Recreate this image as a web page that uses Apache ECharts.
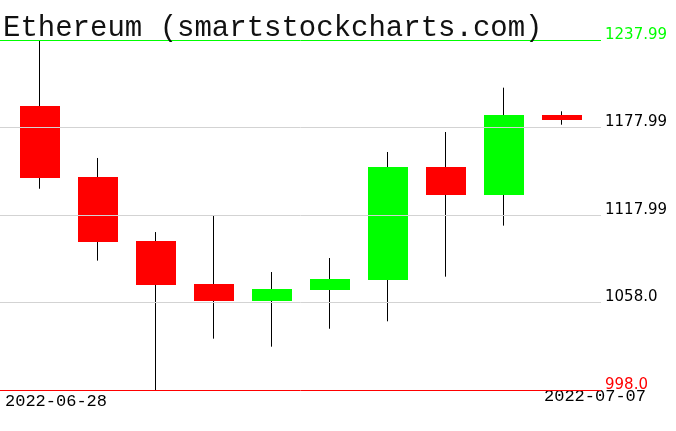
<!DOCTYPE html>
<html>
<head>
<meta charset="utf-8">
<script src="https://cdn.jsdelivr.net/npm/echarts@6/dist/echarts.min.js"></script>
<style>
  html, body { margin: 0; padding: 0; background: #fff; }
  #main { width: 676px; height: 431px; }
</style>
</head>
<body>
<div id="main"></div>
<script>
// daily candles
const dates = ['2022-06-28', '2022-06-29', '2022-06-30', '2022-07-01', '2022-07-02',
    '2022-07-03', '2022-07-04', '2022-07-05', '2022-07-06', '2022-07-07'];
const opens = [1192.7, 1144.1, 1100.2, 1070.7, 1059.2, 1066.8, 1073.6, 1150.9, 1131.9, 1186.8];
const closes = [1143.6, 1099.5, 1070.2, 1059.2, 1067.3, 1074.1, 1150.9, 1131.9, 1186.8, 1183.3];
const lows = [1136.0, 1086.7, 998.0, 1033.2, 1027.7, 1040.0, 1045.1, 1075.7, 1110.7, 1179.9];
const highs = [1237.99, 1157.1, 1106.3, 1117.3, 1078.9, 1088.5, 1161.2, 1174.9, 1205.3, 1189.1];

const yTickValues = [998.0, 1058.0, 1117.99, 1177.99, 1237.99];
const yTickLabels = ['998.0', '1058.0', '1117.99', '1177.99', '1237.99'];

// min line red, max line green, the rest grey
const lineColors = ['#ff0000', '#d3d3d3', '#d3d3d3', '#d3d3d3', '#00ff00'];
const labelColors = ['#ff0000', '#000000', '#000000', '#000000', '#00ff00'];

const candles = dates.map((d, i) => [i, opens[i], closes[i], lows[i], highs[i]]);

function renderCandle(params, api) {
    const i = api.value(0);
    const o = api.coord([i, api.value(1)]);
    const c = api.coord([i, api.value(2)]);
    const lo = api.coord([i, api.value(3)]);
    const hi = api.coord([i, api.value(4)]);
    const bw = Math.round(api.size([1, 0])[0] * 0.69);
    const cx = Math.floor(o[0]) + 0.5;
    const top = Math.round(Math.min(o[1], c[1]));
    const bottom = Math.round(Math.max(o[1], c[1]));
    const up = api.value(2) >= api.value(1);
    return {
        type: 'group',
        children: [
            {
                type: 'line',
                shape: {x1: cx, y1: hi[1], x2: cx, y2: lo[1]},
                style: {stroke: '#000', lineWidth: 1}
            },
            {
                type: 'rect',
                shape: {x: Math.round(cx - bw / 2), y: top, width: bw, height: Math.max(1, bottom - top)},
                style: {fill: up ? '#00ff00' : '#ff0000'}
            }
        ]
    };
}

const chart = echarts.init(document.getElementById('main'));
chart.setOption({
    animation: false,
    backgroundColor: '#fff',
    title: {
        text: 'Ethereum (smartstockcharts.com)',
        left: 3,
        top: 14,
        padding: 0,
        textStyle: {
            fontFamily: 'Liberation Mono',
            fontSize: 29,
            fontWeight: 'normal',
            color: '#111'
        }
    },
    grid: {left: 0, right: 75, top: 40, bottom: 41, containLabel: false},
    xAxis: {
        type: 'value',
        min: -0.681,
        max: 9.681,
        show: false
    },
    yAxis: {
        type: 'value',
        position: 'right',
        min: 998.0,
        max: 1237.99,
        axisLine: {show: false},
        axisTick: {show: false},
        splitLine: {show: false},
        axisLabel: {
            customValues: yTickValues,
            margin: 4,
            fontFamily: 'DejaVu Sans',
            fontSize: 15,
            verticalAlign: 'bottom',
            lineHeight: 10,
            formatter: (v) => {
                const k = yTickValues.indexOf(v);
                return k >= 0 ? yTickLabels[k] : '';
            },
            color: (v) => {
                const k = yTickValues.indexOf(Number(v));
                return k >= 0 ? labelColors[k] : '#000';
            }
        }
    },
    graphic: [
        {
            type: 'text',
            left: 5,
            top: 393,
            style: {text: dates[0], font: '17px "Liberation Mono"', fill: '#000'}
        },
        {
            type: 'text',
            right: 30,
            top: 388,
            style: {text: dates[dates.length - 1], font: '17px "Liberation Mono"', fill: '#000'}
        }
    ],
    series: [
        {
            type: 'custom',
            renderItem: renderCandle,
            encode: {x: 0, y: [1, 2, 3, 4]},
            data: candles,
            markLine: {
                silent: true,
                symbol: 'none',
                z: 5,
                label: {show: false},
                lineStyle: {type: 'solid', width: 1},
                data: yTickValues.map((v, k) => ({
                    yAxis: v,
                    lineStyle: {color: lineColors[k], type: 'solid', width: 1}
                }))
            }
        }
    ]
});
</script>
</body>
</html>
